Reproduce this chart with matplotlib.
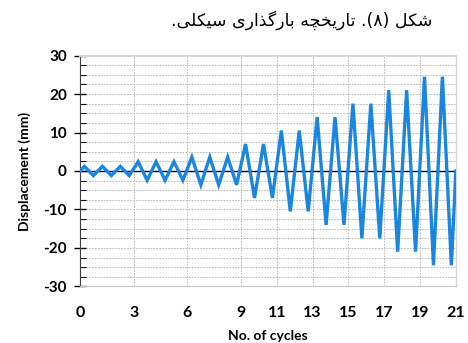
import matplotlib
matplotlib.use("Agg")
import matplotlib.pyplot as plt
from matplotlib.ticker import MultipleLocator

# amplitude of each loading cycle (mm)
cycle_no = list(range(21))
peak_mm = [1.2, 1.2, 1.2, 2.4, 2.4, 2.4, 3.6, 3.6, 3.6, 7.0, 7.0,
           10.5, 10.5, 14.0, 14.0, 17.5, 17.5, 21.0, 21.0, 24.5, 24.5]
trough_mm = [-1.2, -1.2, -1.2, -2.4, -2.4, -2.4, -3.6, -3.6, -3.6, -7.0, -7.0,
             -10.5, -10.5, -14.0, -14.0, -17.5, -17.5, -21.0, -21.0, -24.5, -24.5]
xtick_vals = [0, 3, 6, 9, 11, 13, 15, 17, 19, 21]

title_fa = "شکل (۸). تاریخچه بارگذاری سیکلی."

# minimal persian shaping (presentation forms) since matplotlib does no shaping/bidi
forms = {
    "ش": ("\uFEB5", "\uFEB6", "\uFEB7", "\uFEB8"),
    "ک": ("\uFB8E", "\uFB8F", "\uFB90", "\uFB91"),
    "ل": ("\uFEDD", "\uFEDE", "\uFEDF", "\uFEE0"),
    "ت": ("\uFE95", "\uFE96", "\uFE97", "\uFE98"),
    "ی": ("\uFBFC", "\uFBFD", "\uFBFE", "\uFBFF"),
    "خ": ("\uFEA5", "\uFEA6", "\uFEA7", "\uFEA8"),
    "چ": ("\uFB7A", "\uFB7B", "\uFB7C", "\uFB7D"),
    "ه": ("\uFEE9", "\uFEEA", "\uFEEB", "\uFEEC"),
    "ب": ("\uFE8F", "\uFE90", "\uFE91", "\uFE92"),
    "گ": ("\uFB92", "\uFB93", "\uFB94", "\uFB95"),
    "س": ("\uFEB1", "\uFEB2", "\uFEB3", "\uFEB4"),
    "ا": ("\uFE8D", "\uFE8E", None, None),
    "ر": ("\uFEAD", "\uFEAE", None, None),
    "ذ": ("\uFEAB", "\uFEAC", None, None),
}
mirror = {"(": ")", ")": "("}


def shape(text):
    out = []
    for i, ch in enumerate(text):
        if ch not in forms:
            out.append(ch)
            continue
        prev = text[i - 1] if i > 0 else None
        nxt = text[i + 1] if i < len(text) - 1 else None
        jp = prev in forms and forms[prev][2] is not None
        jn = forms[ch][2] is not None and nxt in forms
        if jp and jn:
            out.append(forms[ch][3])
        elif jp:
            out.append(forms[ch][1])
        elif jn:
            out.append(forms[ch][2])
        else:
            out.append(forms[ch][0])
    # whole line is right-to-left: reverse it and mirror the brackets
    return "".join(mirror.get(c, c) for c in reversed(out))


title_vis = shape(title_fa)

x = [0]
y = [0]
for n, p, t in zip(cycle_no, peak_mm, trough_mm):
    x += [n + 0.25, n + 0.75]
    y += [p, t]
x.append(21)
y.append(0)

plt.rcParams["font.family"] = ["Lato", "DejaVu Sans"]
plt.rcParams["axes.unicode_minus"] = False

fig = plt.figure(figsize=(4.68, 3.43), dpi=100)
ax = fig.add_axes([0.171, 0.165, 0.803, 0.673])

ax.plot(x, y, color="#1a86e0", lw=2.4, solid_joinstyle="miter", zorder=3)
ax.axhline(0, color="black", lw=1.0, zorder=2)

ax.set_xlim(0, 21)
ax.set_ylim(-30, 30)
ax.set_xticks(xtick_vals)
ax.set_yticks([-30, -20, -10, 0, 10, 20, 30])
ax.yaxis.set_minor_locator(MultipleLocator(2.5))
ax.tick_params(axis="x", length=0, pad=14, labelsize=11.5)
ax.tick_params(axis="y", which="major", direction="inout", length=9, width=1,
               labelsize=11, pad=5)
ax.tick_params(axis="y", which="minor", direction="in", length=4, width=0.8)
for lab in ax.get_xticklabels() + ax.get_yticklabels():
    lab.set_fontweight("bold")

ax.grid(True, axis="y", which="both", color="#b0b0b0", ls=(0, (2, 1.5)), lw=0.6)
ax.grid(True, axis="x", which="major", color="#b0b0b0", ls=(0, (2, 1.5)), lw=0.6)
ax.set_axisbelow(True)

ax.spines["left"].set_color("#404040")
ax.spines["bottom"].set_color("#c8c8c8")
ax.spines["top"].set_color("#d8d8d8")
ax.spines["right"].set_color("#d8d8d8")
ax.spines["top"].set_linewidth(1.5)
ax.spines["right"].set_linewidth(1.0)

ax.set_xlabel("No. of cycles", fontsize=10, fontweight="bold", labelpad=7)
ax.set_ylabel("Displacement (mm)", fontsize=10, fontweight="bold", labelpad=9)

fig.text(0.645, 0.94, title_vis, ha="center", va="center", fontsize=12.5,
         family=["DejaVu Sans"])

fig.savefig("out.png", dpi=100)
